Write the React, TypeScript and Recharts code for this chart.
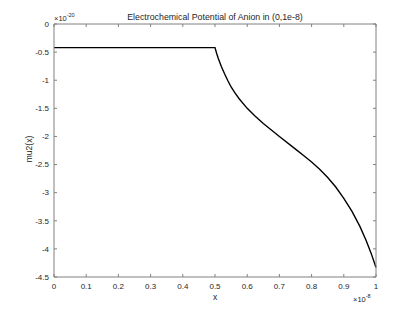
import { LineChart, Line, XAxis, YAxis } from "recharts";

// x in units of 1e-8, mu2 in units of 1e-20
const xVals = [
  0, 0.1, 0.2, 0.3, 0.4, 0.5, 0.505, 0.51, 0.52, 0.53, 0.54, 0.55, 0.5625, 0.575,
  0.6, 0.625, 0.65, 0.675, 0.7, 0.75, 0.775, 0.8, 0.825, 0.85, 0.875, 0.9,
  0.925, 0.95, 0.97, 0.985, 1.0,
];
const mu2 = [
  -0.42, -0.42, -0.42, -0.42, -0.42, -0.42, -0.52, -0.61, -0.76, -0.89, -1.01,
  -1.12, -1.23, -1.33, -1.5, -1.64, -1.77, -1.885, -2.0, -2.225, -2.34, -2.455,
  -2.585, -2.73, -2.9, -3.1, -3.33, -3.6, -3.86, -4.08, -4.33,
];
const xTicks = [0, 0.1, 0.2, 0.3, 0.4, 0.5, 0.6, 0.7, 0.8, 0.9, 1];
const yTicks = [-4.5, -4, -3.5, -3, -2.5, -2, -1.5, -1, -0.5, 0];

const data = xVals.map((x, i) => ({ x, y: mu2[i] }));

const FONT = "'Liberation Sans', Arial, Helvetica, sans-serif";
const TXT = "#262626";
const AXIS = "#808080";
const TICK = 3;

const BottomTick = ({ x, y, payload }: any) => (
  <g>
    <line x1={x} x2={x} y1={y} y2={y - TICK} stroke={AXIS} />
    <text x={x} y={y + 12} textAnchor="middle" fontSize={8} fill={TXT} fontFamily={FONT}>
      {payload.value}
    </text>
  </g>
);

const LeftTick = ({ x, y, payload }: any) => (
  <g>
    <line x1={x} x2={x + TICK} y1={y} y2={y} stroke={AXIS} />
    <text x={x - 5} y={y + 2.8} textAnchor="end" fontSize={8} fill={TXT} fontFamily={FONT}>
      {payload.value}
    </text>
  </g>
);

const TopTick = ({ x, y }: any) => (
  <line x1={x} x2={x} y1={y} y2={y + TICK} stroke={AXIS} />
);

const RightTick = ({ x, y }: any) => (
  <line x1={x} x2={x - TICK} y1={y} y2={y} stroke={AXIS} />
);

export default function App() {
  return (
    <div style={{ position: "absolute", left: 0, top: 0, width: 415, height: 312, background: "#fff" }}>
      <LineChart width={415} height={312} data={data} margin={{ top: 0, right: 0, bottom: 0, left: 0 }}>
        <XAxis
          dataKey="x"
          type="number"
          domain={[0, 1]}
          ticks={xTicks}
          height={35}
          tickSize={0}
          tickMargin={0}
          tickLine={false}
          tick={<BottomTick />}
          axisLine={{ stroke: AXIS }}
          interval={0}
        />
        <XAxis
          xAxisId="top"
          orientation="top"
          dataKey="x"
          type="number"
          domain={[0, 1]}
          ticks={xTicks}
          height={24}
          tickSize={0}
          tickMargin={0}
          tickLine={false}
          tick={<TopTick />}
          axisLine={{ stroke: AXIS }}
          interval={0}
        />
        <YAxis
          type="number"
          domain={[-4.5, 0]}
          ticks={yTicks}
          width={54}
          tickSize={0}
          tickMargin={0}
          tickLine={false}
          tick={<LeftTick />}
          axisLine={{ stroke: AXIS }}
          interval={0}
        />
        <YAxis
          yAxisId="right"
          orientation="right"
          type="number"
          domain={[-4.5, 0]}
          ticks={yTicks}
          width={39}
          tickSize={0}
          tickMargin={0}
          tickLine={false}
          tick={<RightTick />}
          axisLine={{ stroke: AXIS }}
          interval={0}
        />
        <Line
          dataKey="y"
          stroke="transparent"
          dot={false}
          xAxisId="top"
          yAxisId="right"
          isAnimationActive={false}
        />
        <Line
          dataKey="y"
          type="linear"
          stroke="#000"
          strokeWidth={1.4}
          dot={false}
          isAnimationActive={false}
        />
      </LineChart>
      <svg
        width={415}
        height={312}
        style={{ position: "absolute", left: 0, top: 0, pointerEvents: "none" }}
        fontFamily={FONT}
        fill={TXT}
      >
        <text x={215} y={20} textAnchor="middle" fontSize={8.8}>
          Electrochemical Potential of Anion in (0,1e-8)
        </text>
        <text x={54} y={21} fontSize={7.5}>
          ×10
          <tspan fontSize={5.5} dy={-4}>-20</tspan>
        </text>
        <text x={215} y={300} textAnchor="middle" fontSize={8.5}>
          x
        </text>
        <text x={353} y={302} fontSize={7.5}>
          ×10
          <tspan fontSize={5.5} dy={-4}>-8</tspan>
        </text>
        <text
          x={0}
          y={0}
          textAnchor="middle"
          fontSize={8.5}
          transform="translate(32,149) rotate(-90)"
        >
          mu2(x)
        </text>
      </svg>
    </div>
  );
}
